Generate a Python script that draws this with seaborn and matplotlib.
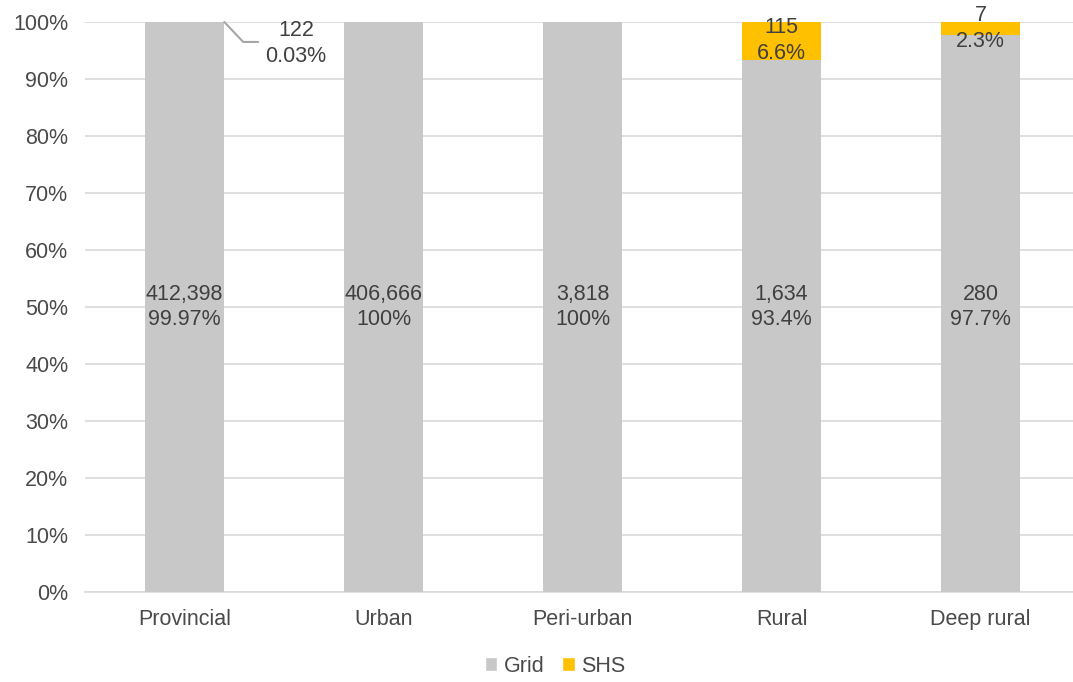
import matplotlib
matplotlib.use("Agg")
import matplotlib.pyplot as plt
from matplotlib.patches import Patch
import seaborn as sns
import pandas as pd

categories = ["Provincial", "Urban", "Peri-urban", "Rural", "Deep rural"]
grid_count = [412398, 406666, 3818, 1634, 280]
shs_count = [122, 0, 0, 115, 7]
grid_pct = [99.97, 100, 100, 93.4, 97.7]
shs_pct = [0.03, 0, 0, 6.6, 2.3]
grid_pct_text = ["99.97%", "100%", "100%", "93.4%", "97.7%"]
shs_pct_text = ["0.03%", "", "", "6.6%", "2.3%"]

GRID_COLOR = "#C8C8C8"
SHS_COLOR = "#FFC000"
TEXT_COLOR = "#404040"
TICK_COLOR = "#4A4A4A"
FS = 15.5

sns.set_theme(style="white")
plt.rcParams["font.family"] = ["Liberation Sans", "DejaVu Sans"]

df = pd.DataFrame({
    "category": categories,
    "grid": grid_pct,
    "total": [g + s for g, s in zip(grid_pct, shs_pct)],
})

fig = plt.figure(figsize=(10.73, 6.82), dpi=100)
ax = fig.add_axes([85 / 1073, 90 / 682, 995 / 1073, 570 / 682])

# stacked bars: full stack in SHS colour, grid share drawn over it
sns.barplot(data=df, x="category", y="total", color=SHS_COLOR, width=0.40,
            saturation=1, linewidth=0, ax=ax, zorder=2)
sns.barplot(data=df, x="category", y="grid", color=GRID_COLOR, width=0.40,
            saturation=1, linewidth=0, ax=ax, zorder=3)

ax.set_xlim(-0.5, 4.5)
ax.set_ylim(0, 100)
ax.set_yticks(range(0, 101, 10))
ax.set_yticklabels([f"{v}%" for v in range(0, 101, 10)])
ax.yaxis.grid(True, color="#D9D9D9", linewidth=1.2, zorder=0)
ax.set_axisbelow(True)
ax.set_xlabel("")
ax.set_ylabel("")
for side in ["top", "right", "left"]:
    ax.spines[side].set_visible(False)
ax.spines["bottom"].set_color("#D9D9D9")
ax.spines["bottom"].set_linewidth(1.2)
ax.tick_params(axis="both", length=0, labelsize=FS, colors=TICK_COLOR)
ax.tick_params(axis="x", pad=12)
ax.tick_params(axis="y", pad=12)

# labels inside the grid segments
for i, (n, t) in enumerate(zip(grid_count, grid_pct_text)):
    ax.text(i, 50, f"{n:,}\n{t}", ha="center", va="center", fontsize=FS,
            color=TEXT_COLOR, linespacing=1.3, zorder=5)

# labels for SHS segments
for i, (n, p, t) in enumerate(zip(shs_count, shs_pct, shs_pct_text)):
    if n == 0:
        continue
    if p < 1:
        y0 = grid_pct[i] + p
        ax.plot([i + 0.2, i + 0.295, i + 0.37], [y0, 96.5, 96.5],
                color="#A6A6A6", linewidth=1.5, zorder=5, clip_on=False)
        ax.text(i + 0.56, 96.2, f"{n:,}\n{t}", ha="center", va="center",
                fontsize=FS, color=TEXT_COLOR, linespacing=1.3, zorder=5)
    else:
        ax.text(i, grid_pct[i] + p / 2, f"{n:,}\n{t}", ha="center",
                va="center", fontsize=FS, color=TEXT_COLOR, linespacing=1.3,
                zorder=5, clip_on=False)

handles = [Patch(facecolor=GRID_COLOR, label="Grid"),
           Patch(facecolor=SHS_COLOR, label="SHS")]
fig.legend(handles=handles, loc="center", bbox_to_anchor=(555 / 1073, 1 - 666 / 682),
           ncol=2, frameon=False, fontsize=FS, handlelength=0.6, handleheight=0.6,
           handletextpad=0.3, columnspacing=0.8, labelcolor=TICK_COLOR)

fig.savefig("out.png", dpi=100)
